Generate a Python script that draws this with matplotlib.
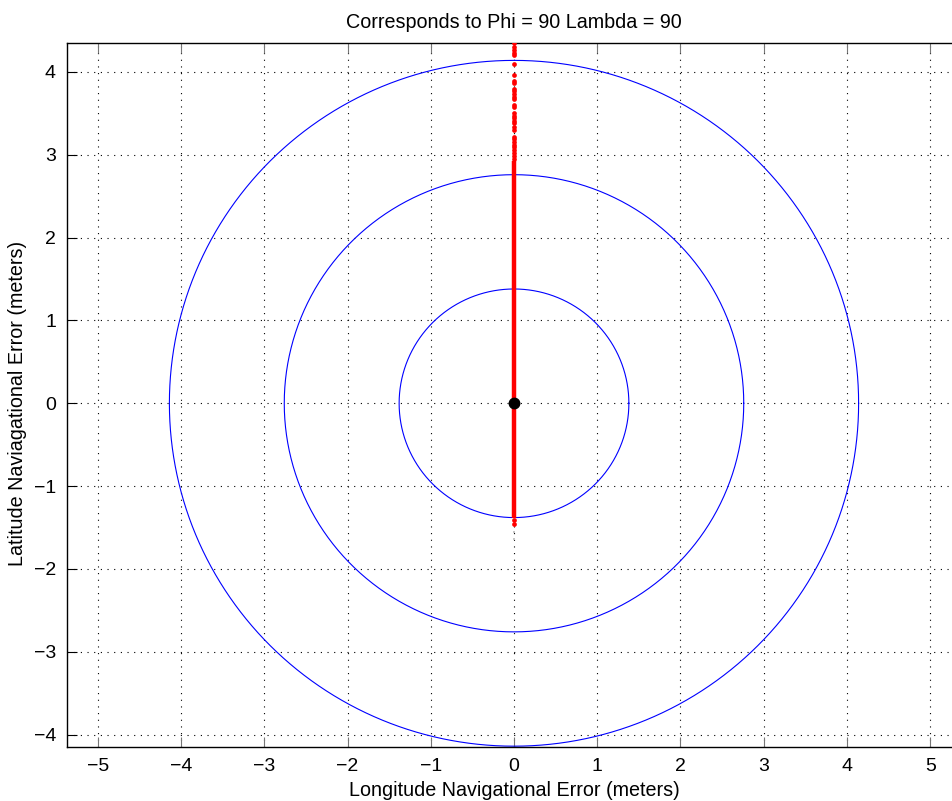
import numpy as np
import matplotlib
matplotlib.use("Agg")
import matplotlib.pyplot as plt

# ---- data ----
title = "Corresponds to Phi = 90 Lambda = 90"
xlabel = "Longitude Navigational Error (meters)"
ylabel = "Latitude Naviagational Error (meters)"

circle_radii = [1.38, 2.76, 4.14]

# dense band of error samples along x = 0 (drawn as a solid run)
dense_y = [-1.38, 2.93]
# sparse error samples
sparse_y = [4.35, 4.30, 4.26, 4.23, 4.21, 4.10, 3.96, 3.89, 3.87, 3.80, 3.77, 3.74,
            3.70, 3.67, 3.60, 3.58, 3.50, 3.47, 3.44, 3.41, 3.38, 3.33, 3.30,
            3.22, 3.19, 3.15, 3.12, 3.09, 3.06, 3.02, 2.98, 2.95,
            -1.41, -1.46]
faint_y = [-1.55, -1.64]
center = (0.0, 0.0)

xticks = [-5, -4, -3, -2, -1, 0, 1, 2, 3, 4, 5]
yticks = [-4, -3, -2, -1, 0, 1, 2, 3, 4]
xlim = (-5.37, 5.6)
ylim = (-4.15, 4.35)

plt.rcParams['font.family'] = ['Liberation Sans', 'DejaVu Sans']

fig = plt.figure(figsize=(9.53, 8.01), dpi=100)
px_per_unit = (961 - 67) / (5.37 * 2)
ax_w = px_per_unit * (xlim[1] - xlim[0])
ax = fig.add_axes([67/953, 54/801, ax_w/953, (747-43)/801])

theta = np.linspace(0, 2*np.pi, 721)
for r in circle_radii:
    ax.plot(r*np.cos(theta), r*np.sin(theta), color='#0000ff', lw=0.8, zorder=2)

ax.plot([0, 0], dense_y, color='#ff0000', lw=3.2, solid_capstyle='butt', zorder=3)
ax.plot(np.zeros(len(sparse_y)), sparse_y, 'o', color='#ff0000', ms=3.4, mew=0, zorder=3)
ax.plot(np.zeros(len(faint_y)), faint_y, 's', color='#c8c8c8', ms=1.5, mew=0, zorder=3)
ax.plot([center[0]], [center[1]], 'o', color='black', ms=7.5, zorder=4)

ax.set_xlim(*xlim)
ax.set_ylim(*ylim)
ax.set_xticks(xticks)
ax.set_yticks(yticks)
ax.set_xticklabels([("\u2212%d" % -v) if v < 0 else str(v) for v in xticks])
ax.set_yticklabels([("\u2212%d" % -v) if v < 0 else str(v) for v in yticks])
ax.tick_params(direction='in', length=7, width=0.8, top=True, right=False,
               labelsize=14, pad=8, colors='black')
ax.tick_params(axis='x', color='#777777')
ax.grid(True, linestyle=(0, (1, 5)), color='black', lw=0.8)
for s in ax.spines.values():
    s.set_linewidth(1.0)
ax.spines['right'].set_visible(False)

fig.text(514/953, 1 - 22/801, title, fontsize=14.2, ha='center', va='center')
fig.text(514/953, 1 - 790/801, xlabel, fontsize=14.2, ha='center', va='center')
fig.text(18/953, 1 - 403/801, ylabel, fontsize=14.2, ha='center', va='center',
         rotation=90)

fig.savefig("out.png", dpi=100)
